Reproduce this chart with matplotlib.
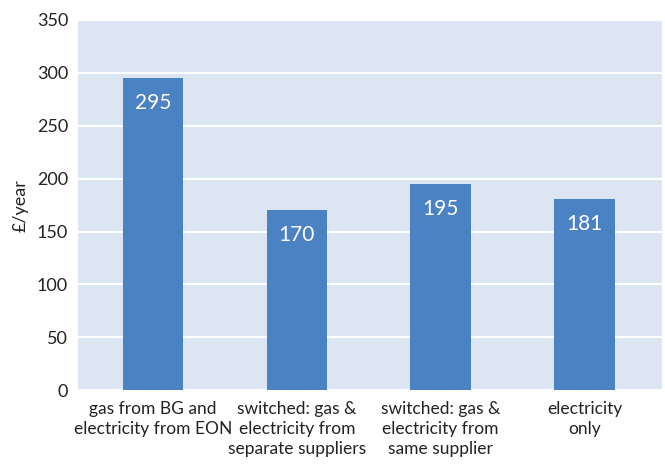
import matplotlib.pyplot as plt

plt.rcParams['font.family'] = ['Lato', 'DejaVu Sans']

categories = ['gas from BG and\nelectricity from EON',
              'switched: gas &\nelectricity from\nseparate suppliers',
              'switched: gas &\nelectricity from\nsame supplier',
              'electricity\nonly']
values = [295, 170, 195, 181]

bg = '#dce6f3'
bar_col = '#4a82c3'

fig = plt.figure(figsize=(6.65, 4.65), dpi=100)
ax = fig.add_axes([0.117, 0.161, 0.878, 0.796])
ax.set_facecolor(bg)

x = range(len(categories))
bars = ax.bar(x, values, width=0.42, color=bar_col, zorder=3)

for b, v in zip(bars, values):
    ax.annotate(str(v), (b.get_x() + b.get_width() / 2, v),
                xytext=(0, -18), textcoords='offset points',
                ha='center', va='center', color='white', fontsize=15, zorder=4)

ax.set_ylim(0, 350)
ax.set_yticks(range(0, 351, 50))
ax.set_xlim(-0.521, 3.535)
ax.set_xticks(list(x))
ax.set_xticklabels(categories, fontsize=12.5, color='#222222', linespacing=1.3)
ax.tick_params(axis='y', labelsize=13, labelcolor='#222222', length=0, pad=7)
ax.tick_params(axis='x', length=0, pad=8)
ax.yaxis.grid(True, color='white', linewidth=1.5, zorder=1)
ax.set_ylabel('£/year', fontsize=13, color='#222222', labelpad=6)
for s in ax.spines.values():
    s.set_visible(False)

plt.savefig('out.png', dpi=100)
